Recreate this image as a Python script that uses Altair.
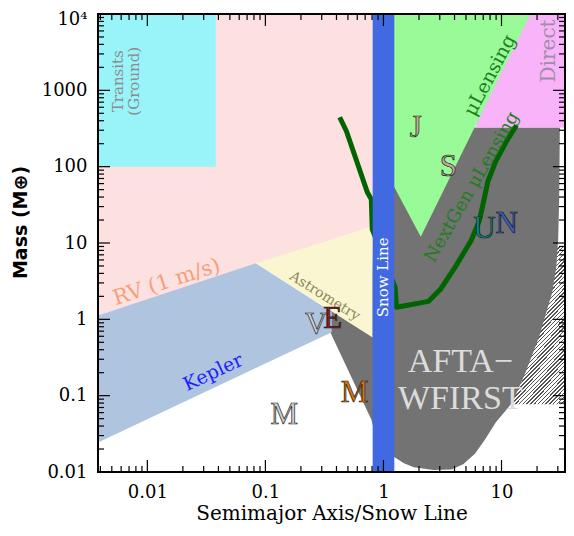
import altair as alt
import pandas as pd

W, H = 467, 458
XDOM = [0.00382, 34.5]
YDOM = [0.01, 10000]

# ---- regions (semimajor axis / snow line, mass in Earth masses) ----
rv_a = [0.00382, 0.81]
rv_lo = [1.12, 16.4]
rv_hi = [10000, 10000]

transit_a = [0.00382, 0.038]
transit_m = [100, 10000]

kepler_a = [0.00382, 0.083, 0.365]
kepler_lo = [0.0244, 0.231, 0.676]
kepler_hi = [1.12, 5.42, 1.25]

astro_a = [0.083, 0.81]
astro_lo = [5.42, 0.58]
astro_hi = [5.42, 16.4]

afta_a = [0.319, 0.789, 0.92, 1.253, 1.491, 1.81, 2.66, 3.76, 4.74, 5.98,
          7.25, 8.96, 12.4, 16.0, 20.9, 26.9, 29.1, 30.2, 30.8, 31.2]
afta_lo = [0.955, 0.0488, 0.0198, 0.0155, 0.013, 0.0115, 0.01066, 0.0108,
           0.0126, 0.0175, 0.0267, 0.0447, 0.0817, 0.202, 0.599, 2.26, 4.8,
           11.2, 37.4, 325]
afta_hi = [1.35, 2.47, 325, 325, 325, 325, 325, 325, 325, 325,
           325, 325, 325, 325, 325, 325, 325, 325, 325, 325]

hatch_a = [12.15, 34.5]
hatch_m = [0.0769, 9.06]

lens_a = [1.2, 2.07, 17.6]
lens_lo = [58.8, 12.1, 10000]
lens_hi = [10000, 10000, 10000]

direct_a = [6.09, 34.5]
direct_m = [325, 10000]

snow_a = [0.81, 1.236]

# NextGen microlensing sensitivity curve
ng_a = [0.426, 0.486, 0.730, 0.789, 0.804, 1.253, 1.29, 2.41, 3.04, 4.14,
        5.53, 6.46, 6.97, 7.67, 8.95, 10.9, 13.4]
ng_m = [444, 291, 46.2, 37.4, 15.1, 2.63, 1.44, 1.72, 2.47, 5.10,
        10.8, 19.2, 32.1, 64.4, 118, 209, 349]

# ---- labels ----
lab_text = ["Transits\n(Ground)", "RV (1 m/s)", "Kepler", "Astrometry",
            "Snow Line", "\u03bcLensing", "NextGen \u03bcLensing", "Direct"]
lab_a = [0.00561, 0.0146, 0.0361, 0.318, 1.0, 7.98, 5.64, 25.2]
lab_m = [1316, 3.05, 0.202, 2.0, 3.55, 1578, 53.7, 3284]
lab_angle = [270, 342, 335, 32, 270, 298, 300, 270]
lab_color = ["#8c8c8c", "#f4a07a", "#1e1eff", "#8c8a55", "#ffffff",
             "#1e7d1e", "#1e7d1e", "#a08ca8"]
lab_size = [15, 21, 19, 14, 15, 19, 18, 20]

planet_text = ["M", "V", "E", "M", "J", "S", "U", "N"]
planet_a = [0.1445, 0.2695, 0.372, 0.569, 1.88, 3.55, 7.18, 11.07]
planet_m = [0.0552, 0.834, 1.0, 0.107, 318, 98.2, 15.1, 17.6]
planet_color = ["#cfcfcf", "#d2d2d2", "#8b1a1a", "#d9720c", "#c8b08c",
                "#c8a8a0", "#008b8b", "#3a5fcd"]

# ---- ticks ----
x_major = [0.01, 0.1, 1, 10]
x_minor = [0.004, 0.005, 0.006, 0.007, 0.008, 0.009,
           0.02, 0.03, 0.04, 0.05, 0.06, 0.07, 0.08, 0.09,
           0.2, 0.3, 0.4, 0.5, 0.6, 0.7, 0.8, 0.9,
           2, 3, 4, 5, 6, 7, 8, 9, 20, 30]
y_major = [0.01, 0.1, 1, 10, 100, 1000, 10000]
y_minor = [0.02, 0.03, 0.04, 0.05, 0.06, 0.07, 0.08, 0.09,
           0.2, 0.3, 0.4, 0.5, 0.6, 0.7, 0.8, 0.9,
           2, 3, 4, 5, 6, 7, 8, 9,
           20, 30, 40, 50, 60, 70, 80, 90,
           200, 300, 400, 500, 600, 700, 800, 900,
           2000, 3000, 4000, 5000, 6000, 7000, 8000, 9000]

FONT = "DejaVu Serif"
xs = alt.Scale(type="log", domain=XDOM, nice=False)
ys = alt.Scale(type="log", domain=YDOM, nice=False)

xaxis = alt.Axis(values=x_major, ticks=False, domain=False, grid=False,
                 labelFont=FONT, labelFontSize=18, labelColor="black",
                 labelPadding=11, labelFlush=False, labelOverlap=False,
                 labelExpr="'' + datum.value",
                 title="Semimajor Axis/Snow Line", titleFont=FONT,
                 titleFontSize=20, titleFontWeight="normal", titleColor="black",
                 titlePadding=2)
yaxis = alt.Axis(values=y_major, ticks=False, domain=False, grid=False,
                 labelFont=FONT, labelFontSize=18, labelColor="black",
                 labelPadding=11, labelFlush=False, labelOverlap=False,
                 labelOffset={"condition": {"test": "datum.value >= 10000", "value": 5},
                              "value": 0},
                 labelExpr="datum.value >= 10000 ? '10\u2074' : '' + datum.value",
                 title="Mass (M\u2295)", titleFont="DejaVu Sans", titleFontSize=19,
                 titleFontWeight="bold", titleColor="black",
                 titleX=-78, titleY=208, titleBaseline="middle",
                 titleAlign="center", titleAngle=270)


def X(f):
    return alt.X(f, type="quantitative", scale=xs, axis=xaxis)


def Y(f):
    return alt.Y(f, type="quantitative", scale=ys, axis=yaxis)


def band(a, lo, hi, color):
    df = pd.DataFrame({"a": a, "lo": lo, "hi": hi})
    return alt.Chart(df).mark_area(color=color, orient="vertical", clip=True,
                                   interpolate="linear").encode(
        x=X("a"), y=Y("lo"), y2="hi")


def box(a, m, **kw):
    df = pd.DataFrame({"a": [a[0]], "a2": [a[1]], "m": [m[0]], "m2": [m[1]]})
    return alt.Chart(df).mark_rect(clip=True, **kw).encode(
        x=X("a"), x2="a2", y=Y("m"), y2="m2")


rv = band(rv_a, rv_lo, rv_hi, "#fde0e0")
transit = box(transit_a, transit_m, color="#99f4fa")

stops = []
N = 55
for k in range(N):
    stops += [alt.GradientStop(color="#ffffff", offset=k / N),
              alt.GradientStop(color="#ffffff", offset=(k + 0.62) / N),
              alt.GradientStop(color="#555555", offset=(k + 0.62) / N),
              alt.GradientStop(color="#555555", offset=(k + 1) / N)]
hatch = box(hatch_a, hatch_m, color=alt.LinearGradient(
    gradient="linear", stops=stops, x1=0, y1=0, x2=0.4145, y2=1.202))

afta = band(afta_a, afta_lo, afta_hi, "#737373")
kepler = band(kepler_a, kepler_lo, kepler_hi, "#afc4df")
astro = band(astro_a, astro_lo, astro_hi, "#faf6d2")
direct = box(direct_a, direct_m, color="#f9b4f9")
lens = band(lens_a, lens_lo, lens_hi, "#98fb98")

ng = alt.Chart(pd.DataFrame({"a": ng_a, "m": ng_m, "i": list(range(len(ng_a)))})
               ).mark_line(color="#006400", strokeWidth=5, clip=True,
                           strokeJoin="round").encode(
    x=X("a"), y=Y("m"), order="i:Q")

snow = box(snow_a, YDOM, color="#4169e1")

labels = alt.Chart(pd.DataFrame({"t": lab_text, "a": lab_a, "m": lab_m,
                                 "ang": lab_angle, "c": lab_color, "s": lab_size})
                   ).mark_text(font=FONT, lineBreak="\n", align="center",
                               baseline="middle", lineHeight=16).encode(
    x=X("a"), y=Y("m"), text="t:N",
    angle=alt.Angle("ang:Q", scale=None),
    color=alt.Color("c:N", scale=None),
    size=alt.Size("s:Q", scale=None))

afta_lab = alt.Chart(pd.DataFrame({"t": ["AFTA\u2212\nWFIRST"], "a": [4.48], "m": [0.277]})
                     ).mark_text(font="Liberation Serif", fontSize=34,
                                 color="#dcdcdc", lineBreak="\n", lineHeight=37,
                                 align="center", baseline="middle").encode(
    x=X("a"), y=Y("m"), text="t:N")

planets = alt.Chart(pd.DataFrame({"t": planet_text, "a": planet_a, "m": planet_m,
                                  "c": planet_color})
                    ).mark_text(font="Liberation Serif", fontSize=31,
                                stroke="#1a1a1a", strokeWidth=0.7,
                                align="center", baseline="middle").encode(
    x=X("a"), y=Y("m"), text="t:N", color=alt.Color("c:N", scale=None))


def xticks(vals, length, top):
    df = pd.DataFrame({"v": vals})
    y0 = 0 if top else H
    y1 = length if top else H - length
    return alt.Chart(df).mark_rule(color="black", strokeWidth=1.2).encode(
        x=X("v"), y=alt.value(y0), y2=alt.value(y1))


def yticks(vals, length, right):
    df = pd.DataFrame({"v": vals})
    x0 = W if right else 0
    x1 = W - length if right else length
    return alt.Chart(df).mark_rule(color="black", strokeWidth=1.2).encode(
        y=Y("v"), x=alt.value(x0), x2=alt.value(x1))


ticks = [xticks(x_major, 12, False), xticks(x_major, 12, True),
         xticks(x_minor, 6, False), xticks(x_minor, 6, True),
         yticks(y_major, 12, False), yticks(y_major, 12, True),
         yticks(y_minor, 6, False), yticks(y_minor, 6, True)]

frame = alt.Chart(pd.DataFrame({"d": [0]})).mark_rect(
    filled=False, stroke="black", strokeWidth=2).encode(
    x=alt.value(0), x2=alt.value(W), y=alt.value(0), y2=alt.value(H))

chart = alt.layer(rv, transit, hatch, afta, kepler, astro, direct, lens, ng,
                  snow, labels, afta_lab, planets, *ticks, frame).properties(
    width=W, height=H,
    autosize=alt.AutoSizeParams(type="none"),
    padding={"left": 90, "top": 6, "right": 1, "bottom": 52},
    background="white",
).configure_view(strokeWidth=0)

chart.save("out.html", embed_options={"renderer": "svg", "actions": False})
